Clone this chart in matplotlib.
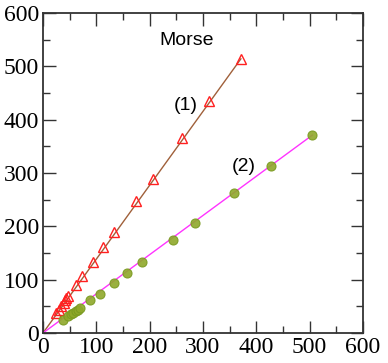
import matplotlib.pyplot as plt
from matplotlib.ticker import MultipleLocator

# series (1): triangles
s1_x = [25, 30, 34, 39, 42, 44, 46, 61, 73, 94, 112, 133, 175, 206, 261, 312, 371]
s1_y = [38, 44, 51, 56, 61, 66, 69, 90, 107, 134, 161, 189, 247, 288, 366, 435, 514]
# series (2): circles
s2_x = [38, 47, 52, 56, 61, 66, 70, 88, 106, 133, 158, 186, 244, 285, 359, 427, 505]
s2_y = [25, 31, 35, 38, 41, 44, 47, 61, 73, 93, 112, 133, 174, 206, 262, 313, 371]
# fitted lines through origin
fit1_x = [0, 371]
fit1_y = [0, 514]
fit2_x = [0, 505]
fit2_y = [0, 371]

fig = plt.figure(figsize=(3.88, 3.63), dpi=100)
ax = fig.add_axes([43/388, 30/363, 320/388, 320/363])

ax.plot(fit1_x, fit1_y, color='#a0603a', lw=1.0, zorder=2)
ax.plot(fit2_x, fit2_y, color='#ff33ff', lw=1.0, zorder=2)
ax.plot(s1_x, s1_y, linestyle='none', marker='^', markersize=6.5,
        markerfacecolor='none', markeredgecolor='#ff2020', markeredgewidth=1.0, zorder=3)
ax.plot(s2_x, s2_y, linestyle='none', marker='o', markersize=6.5,
        markerfacecolor='#8fa82a', markeredgecolor='#7a9a20', markeredgewidth=0.8,
        alpha=0.9, zorder=3)

ax.text(270, 549, 'Morse', fontsize=14, family='Liberation Sans', ha='center', va='center')
ax.text(268, 426, '(1)', fontsize=14, family='Liberation Sans', ha='center', va='center')
ax.text(377, 313, '(2)', fontsize=14, family='Liberation Sans', ha='center', va='center')

ticks = [0, 100, 200, 300, 400, 500, 600]
ax.set_xlim(0, 600)
ax.set_ylim(0, 600)
ax.set_xticks(ticks)
ax.set_yticks(ticks)
ax.set_xticklabels([str(t) for t in ticks], fontfamily='Liberation Serif', fontsize=17)
ax.set_yticklabels([str(t) for t in ticks], fontfamily='Liberation Serif', fontsize=17)
ax.xaxis.set_minor_locator(MultipleLocator(50))
ax.yaxis.set_minor_locator(MultipleLocator(50))
ax.tick_params(which='both', direction='in', top=True, right=True,
               color='#333333', width=1.0)
ax.tick_params(which='major', length=9, pad=3)
ax.tick_params(which='minor', length=5)
for sp in ax.spines.values():
    sp.set_linewidth(1.3)
    sp.set_color('#333333')

fig.savefig('out.png', dpi=100)
